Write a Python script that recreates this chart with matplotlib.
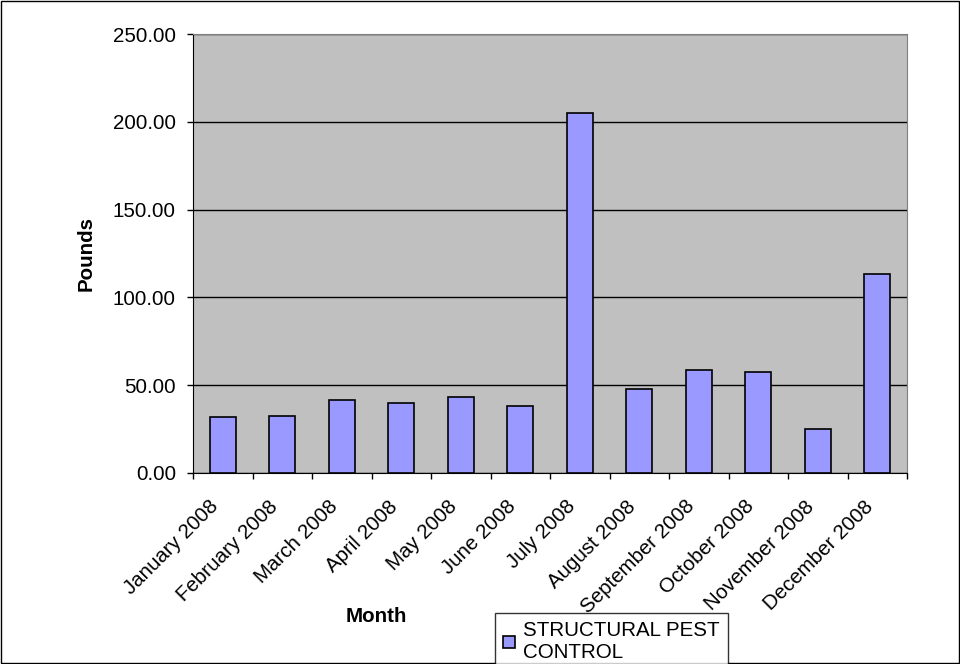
import numpy as np
import matplotlib
matplotlib.use('Agg')
import matplotlib.pyplot as plt
import matplotlib.transforms as mtransforms

months = ['January 2008', 'February 2008', 'March 2008', 'April 2008',
          'May 2008', 'June 2008', 'July 2008', 'August 2008',
          'September 2008', 'October 2008', 'November 2008', 'December 2008']
pounds = [31.7, 32.3, 41.4, 40.0, 43.5, 38.0, 205.2, 47.8, 58.7, 57.3, 25.2, 113.3]
series_name = 'STRUCTURAL PEST\nCONTROL'
y_ticks = [0, 50, 100, 150, 200, 250]

plt.rcParams['font.family'] = ['Liberation Sans', 'DejaVu Sans']
fs = 14.8

fig = plt.figure(figsize=(9.6, 6.64), dpi=100)
ax = fig.add_axes([193 / 960, 1 - 473 / 664, 714 / 960, 439 / 664])
ax.set_facecolor('#C0C0C0')

x = np.arange(len(months))
bars = ax.bar(x, pounds, width=0.43, color='#9999FF', edgecolor='black',
              linewidth=1.2, zorder=3, label=series_name)

ax.set_xlim(-0.5, len(months) - 0.5)
ax.set_ylim(0, 250)
ax.set_yticks(y_ticks)
ax.set_yticklabels(['%.2f' % v for v in y_ticks], fontsize=fs)
ax.yaxis.grid(True, color='black', linewidth=1, zorder=1)
ax.tick_params(axis='y', length=4.3, width=1, direction='out', pad=8)

# category labels centred under the bars, ticks on the boundaries
ax.set_xticks(x)
ax.set_xticklabels(months, rotation=45, ha='right', va='center',
                   rotation_mode='anchor', fontsize=fs)
ax.set_xticks(np.arange(-0.5, len(months)), minor=True)
ax.tick_params(axis='x', which='major', length=0, pad=22)
ax.tick_params(axis='x', which='minor', length=4.3, width=1, direction='out')
shift = mtransforms.ScaledTranslation(-7 / 100, 0, fig.dpi_scale_trans)
for lbl in ax.get_xticklabels():
    lbl.set_transform(lbl.get_transform() + shift)

for side in ['top', 'right']:
    ax.spines[side].set_color('#808080')
for side in ['left', 'bottom']:
    ax.spines[side].set_color('black')

fig.text(86 / 960, 1 - 253 / 664, 'Pounds', fontsize=fs, fontweight='bold',
         rotation=90, ha='center', va='center')
fig.text(376 / 960, 1 - 617 / 664, 'Month', fontsize=fs, fontweight='bold',
         ha='center', va='center')

leg = fig.legend(handles=[bars], labels=[series_name], loc='upper left',
                 bbox_to_anchor=(495 / 960, 1 - 613 / 664), fontsize=fs,
                 frameon=True, fancybox=False, edgecolor='black',
                 handlelength=0.55, handleheight=0.55, handletextpad=0.4,
                 borderpad=0.4, borderaxespad=0, labelspacing=0.1)
leg.get_frame().set_linewidth(1)

# outer chart border
fig.patches.append(plt.Rectangle((0.001, 0.001), 0.998, 0.998,
                                 transform=fig.transFigure, fill=False,
                                 edgecolor='black', linewidth=1))

fig.savefig('out.png', dpi=100)
